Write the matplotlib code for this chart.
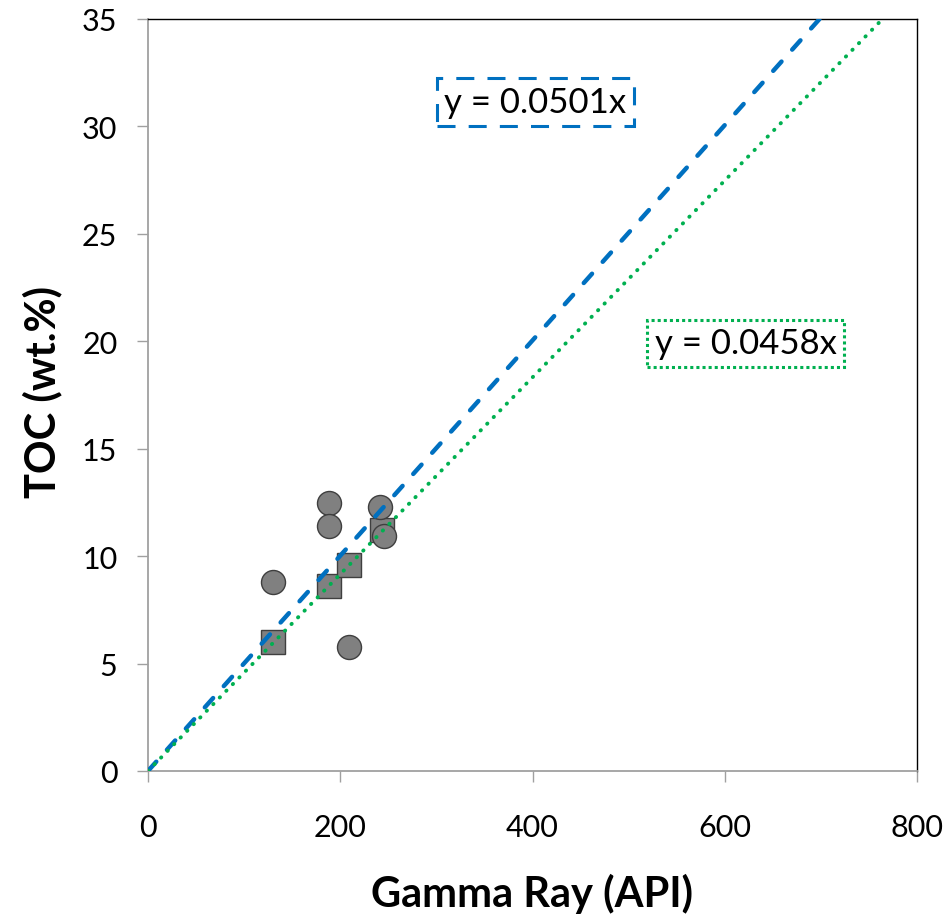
import numpy as np
import matplotlib.pyplot as plt

# TOC vs gamma ray, two sample groups and two zero-intercept trend lines
gr_circle = [130, 188, 188, 209, 241, 245]
toc_circle = [8.8, 12.45, 11.4, 5.75, 12.3, 10.95]
gr_square = [130, 188, 209, 243]
toc_square = [6.0, 8.6, 9.6, 11.2]

slope_blue = 0.0501
slope_green = 0.0458

x_ticks = [0, 200, 400, 600, 800]
y_ticks = [0, 5, 10, 15, 20, 25, 30, 35]

plt.rcParams['font.family'] = ['Lato', 'DejaVu Sans']

fig = plt.figure(figsize=(9.45, 9.2), dpi=100)
ax = fig.add_axes([0.1566, 0.1609, 0.8138, 0.8174])

ax.plot(gr_square, toc_square, 's', ms=17.3, mfc='#808080', mec='#3f3f3f',
        mew=1.0, zorder=3)
ax.plot(gr_circle, toc_circle, 'o', ms=17.3, mfc='#808080', mec='#3f3f3f',
        mew=1.0, zorder=4)

xl = np.array([0, 800])
ax.plot(xl, slope_blue * xl, color='#0070C0', lw=3.2, dashes=(2.8, 3.6),
        dash_capstyle='round', zorder=5)
ax.plot(xl, slope_green * xl, color='#00B050', lw=2.8, dashes=(0.1, 2.3),
        dash_capstyle='round', zorder=5)

ax.text(403, 31.14, 'y = %.4fx' % slope_blue, fontsize=25,
        ha='center', va='center', zorder=6,
        bbox=dict(boxstyle='square,pad=0.22', fc='white', ec='#0070C0',
                  lw=2.2, ls=(0, (5.9, 4.3))))
ax.text(621.6, 19.9, 'y = %.4fx' % slope_green, fontsize=25,
        ha='center', va='center', zorder=6,
        bbox=dict(boxstyle='square,pad=0.22', fc='white', ec='#00B050',
                  lw=2.2, ls=(0, (1, 1))))

ax.set_xlim(0, 800)
ax.set_ylim(0, 35)
ax.set_xticks(x_ticks)
ax.set_yticks(y_ticks)
ax.tick_params(axis='both', direction='out', length=8, width=1.0,
               color='#a0a0a0', labelsize=22, labelcolor='black')
ax.tick_params(axis='x', pad=22)
ax.tick_params(axis='y', pad=14)

for side in ['left', 'bottom']:
    ax.spines[side].set_color('#a0a0a0')
    ax.spines[side].set_linewidth(1.3)
for side in ['top', 'right']:
    ax.spines[side].set_color('black')
    ax.spines[side].set_linewidth(1.0)

fig.text(0.563, 0.0141, 'Gamma Ray (API)', fontsize=30, fontweight='bold',
         ha='center', va='baseline')
fig.text(0.045, 0.574, 'TOC (wt.%)', fontsize=30, fontweight='bold',
         rotation=90, ha='center', va='center')

fig.savefig('out.png', dpi=100)
